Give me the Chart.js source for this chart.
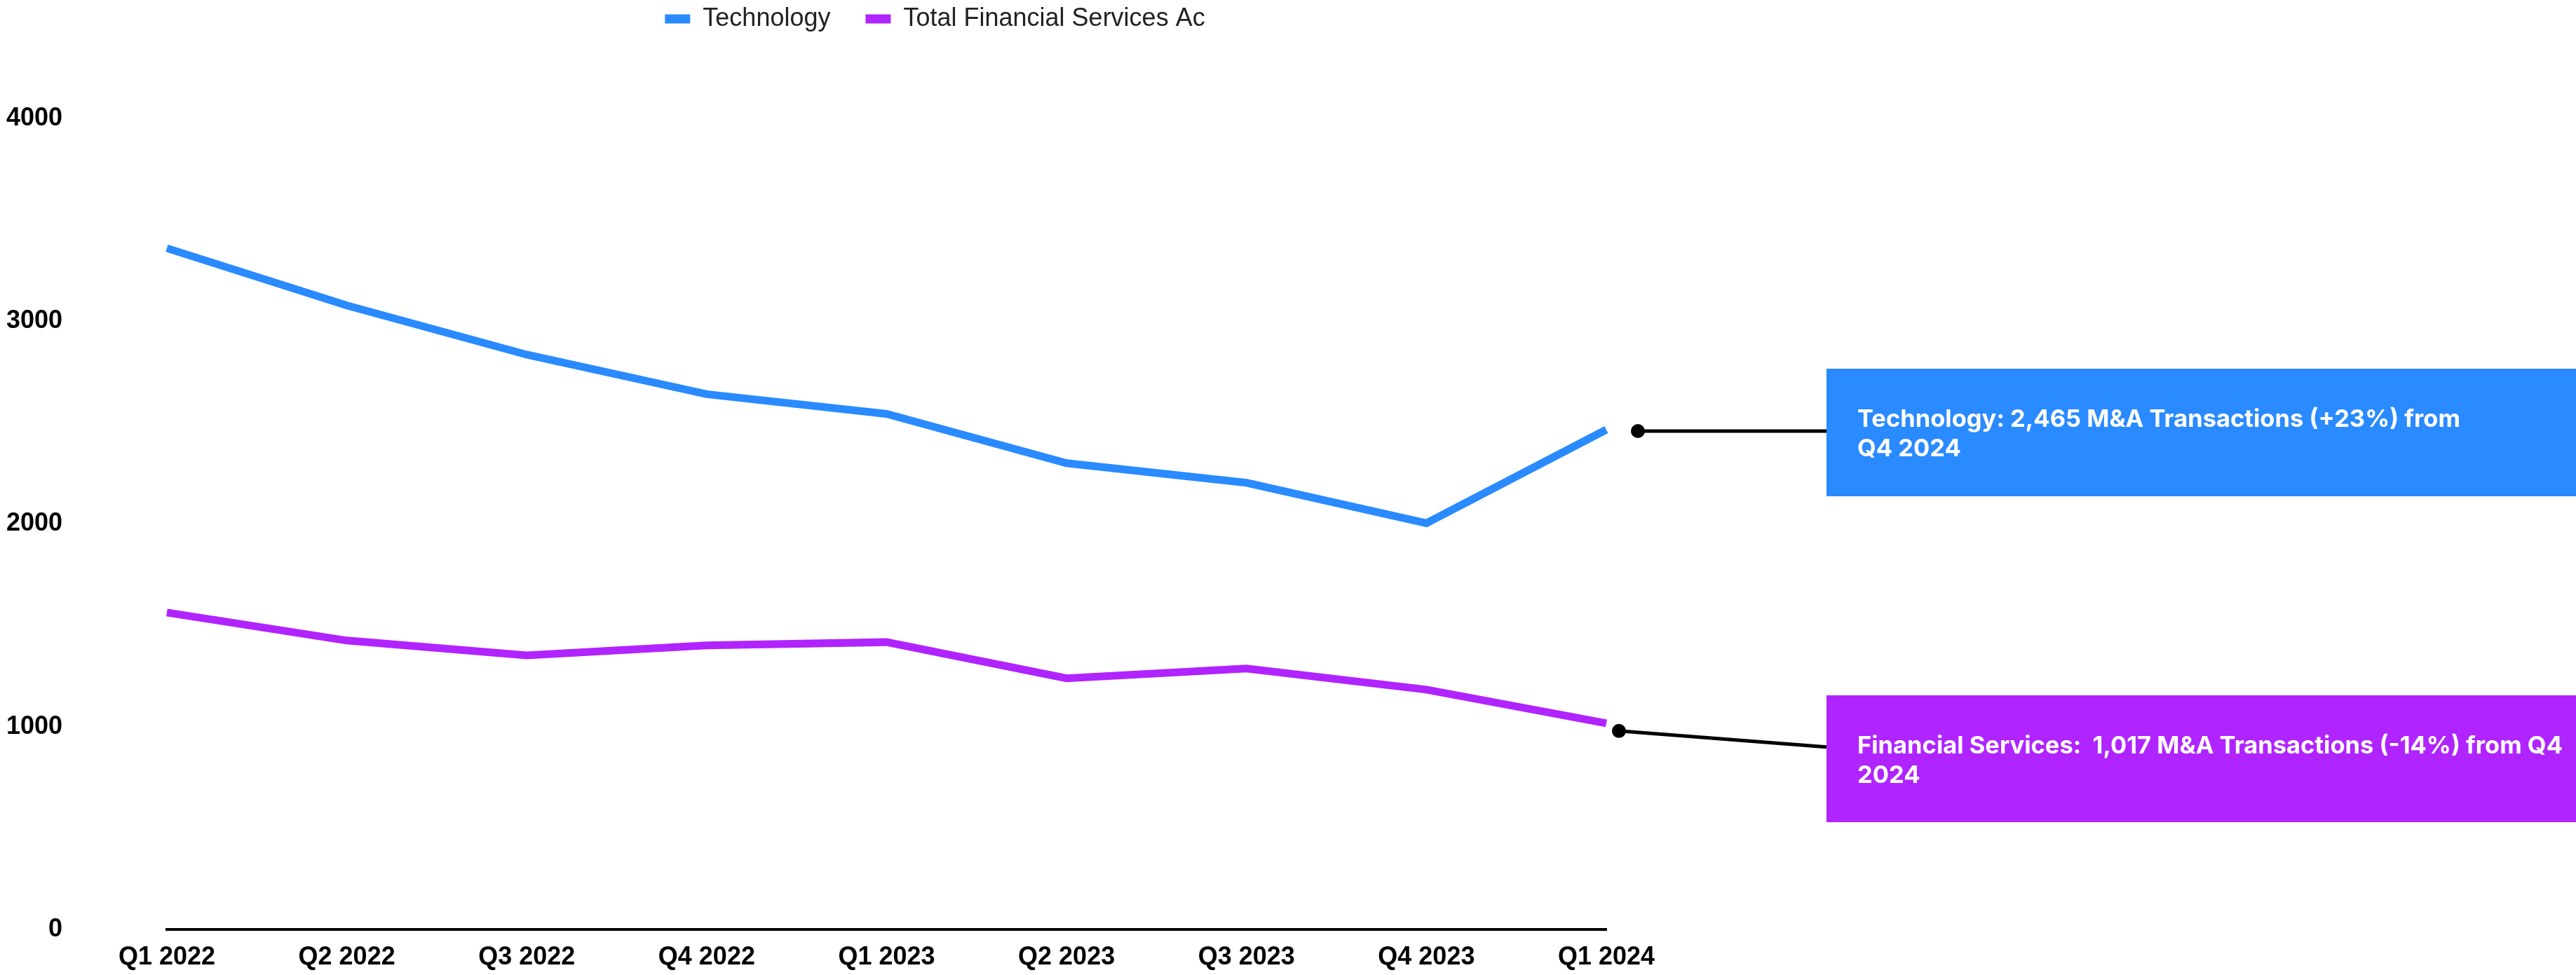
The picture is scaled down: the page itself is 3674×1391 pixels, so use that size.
<!DOCTYPE html>
<html>
<head>
<meta charset="utf-8">
<title>M&amp;A Transactions by Quarter</title>
<script src="https://cdn.jsdelivr.net/npm/chart.js@4.4.1/dist/chart.umd.min.js"></script>
<style>
  html, body { margin: 0; padding: 0; background: #ffffff; }
  canvas { display: block; }
</style>
</head>
<body>
<canvas id="chart" width="3674" height="1391" style="width:3674px;height:1391px"></canvas>
<script>
// Quarterly M&A transaction counts
const quarters = ['Q1 2022', 'Q2 2022', 'Q3 2022', 'Q4 2022', 'Q1 2023', 'Q2 2023', 'Q3 2023', 'Q4 2023', 'Q1 2024'];
const technology = [3360, 3078, 2835, 2640, 2543, 2300, 2203, 2004, 2465];
const financialServices = [1563, 1425, 1352, 1401, 1417, 1239, 1287, 1183, 1017];
const seriesNames = ['Technology', 'Total Financial Services Ac'];
const yTickValues = [0, 1000, 2000, 3000, 4000];

const BLUE = '#2A8AFF';
const PURPLE = '#B024FF';
const TICK_FONT = { family: '"Liberation Sans", Arial, sans-serif', size: 36, weight: 'bold' };

const fmt = v => v.toLocaleString('en-US');
const change = (now, prev) => {
  const p = Math.round((now - prev) / prev * 100);
  return (p > 0 ? '+' : '') + p + '%';
};
const last = quarters.length - 1;

// Callout boxes on the right, each tied to the latest point of its series
const callouts = [
  {
    datasetIndex: 0,
    fill: BLUE,
    box: { x: 2605, y: 526, h: 182 },
    dot: { dx: 45, dy: 2 },
    lineEndDy: 0,
    lines: [
      `Technology: ${fmt(technology[last])} M&A Transactions (${change(technology[last], technology[last - 1])}) from`,
      'Q4 2024'
    ]
  },
  {
    datasetIndex: 1,
    fill: PURPLE,
    box: { x: 2605, y: 992, h: 181 },
    dot: { dx: 18, dy: 11 },
    lineEndDy: 23,
    lines: [
      `Financial Services:  ${fmt(financialServices[last])} M&A Transactions (${change(financialServices[last], financialServices[last - 1])}) from Q4`,
      '2024'
    ]
  }
];

// Legend sits centred over the left part of the canvas, near the top edge
const legendPlacement = {
  id: 'legendPlacement',
  afterLayout(chart) {
    const lg = chart.legend;
    if (!lg) return;
    const h = lg.height;
    const pad = lg.options.labels.padding;
    lg.left = 0;
    lg.right = 2667;
    lg.width = 2667;
    lg.top = 9 - pad;
    lg.bottom = lg.top + h;
  }
};

const calloutPlugin = {
  id: 'callouts',
  afterDraw(chart) {
    const ctx = chart.ctx;
    const xs = chart.scales.x;
    const ys = chart.scales.y;
    ctx.save();
    callouts.forEach(c => {
      const values = chart.data.datasets[c.datasetIndex].data;
      const px = xs.getPixelForValue(last);
      const py = ys.getPixelForValue(values[last]);
      const dotX = px + c.dot.dx;
      const dotY = py + c.dot.dy;

      // box
      ctx.fillStyle = c.fill;
      ctx.fillRect(c.box.x, c.box.y, chart.width - c.box.x, c.box.h);

      // connector
      ctx.strokeStyle = '#000';
      ctx.lineWidth = 5;
      ctx.beginPath();
      ctx.moveTo(dotX, dotY);
      ctx.lineTo(c.box.x, dotY + c.lineEndDy);
      ctx.stroke();
      ctx.fillStyle = '#000';
      ctx.beginPath();
      ctx.arc(dotX, dotY, 10, 0, Math.PI * 2);
      ctx.fill();

      // text
      ctx.fillStyle = '#ffffff';
      ctx.font = '700 34.5px Inter, "Noto Sans", sans-serif';
      ctx.textAlign = 'left';
      ctx.textBaseline = 'alphabetic';
      c.lines.forEach((t, i) => {
        ctx.fillText(t, 2649, c.box.y + 83 + i * 42);
      });
    });
    ctx.restore();
  }
};

new Chart(document.getElementById('chart'), {
  type: 'line',
  data: {
    labels: quarters,
    datasets: [
      {
        label: seriesNames[0],
        data: technology,
        borderColor: BLUE,
        backgroundColor: BLUE,
        borderWidth: 11,
        pointRadius: 0,
        pointHoverRadius: 0,
        tension: 0,
        fill: false
      },
      {
        label: seriesNames[1],
        data: financialServices,
        borderColor: PURPLE,
        backgroundColor: PURPLE,
        borderWidth: 11,
        pointRadius: 0,
        pointHoverRadius: 0,
        tension: 0,
        fill: false
      }
    ]
  },
  options: {
    responsive: false,
    devicePixelRatio: 1,
    animation: false,
    events: [],
    layout: { padding: { top: 73, right: 1383, left: 0, bottom: 0 } },
    plugins: {
      tooltip: { enabled: false },
      legend: {
        position: 'top',
        labels: {
          boxWidth: 36,
          boxHeight: 13,
          padding: 50,
          color: '#222222',
          font: { family: '"Liberation Sans", Arial, sans-serif', size: 36 },
          generateLabels(chart) {
            return Chart.defaults.plugins.legend.labels.generateLabels(chart)
              .map(item => Object.assign(item, { lineWidth: 0, strokeStyle: item.fillStyle }));
          }
        }
      }
    },
    scales: {
      x: {
        grid: { display: false, drawTicks: false },
        border: { display: true, color: '#000000', width: 4 },
        ticks: { color: '#000000', font: TICK_FONT, padding: 18, maxRotation: 0, autoSkip: false },
        afterFit(scale) { scale.height = 65; }
      },
      y: {
        min: yTickValues[0],
        max: yTickValues[yTickValues.length - 1],
        grid: { display: false, drawTicks: false },
        border: { display: false },
        ticks: {
          stepSize: yTickValues[1] - yTickValues[0],
          color: '#000000',
          font: TICK_FONT,
          padding: 149,
          callback: v => String(v)
        },
        afterBuildTicks(scale) { scale.ticks = yTickValues.map(v => ({ value: v })); },
        afterFit(scale) {
          scale.width = 238;
          // the wide label gap is horizontal only; no extra room above or below
          scale.paddingTop = 0;
          scale.paddingBottom = 0;
        }
      }
    }
  },
  plugins: [legendPlacement, calloutPlugin]
});
</script>
</body>
</html>
